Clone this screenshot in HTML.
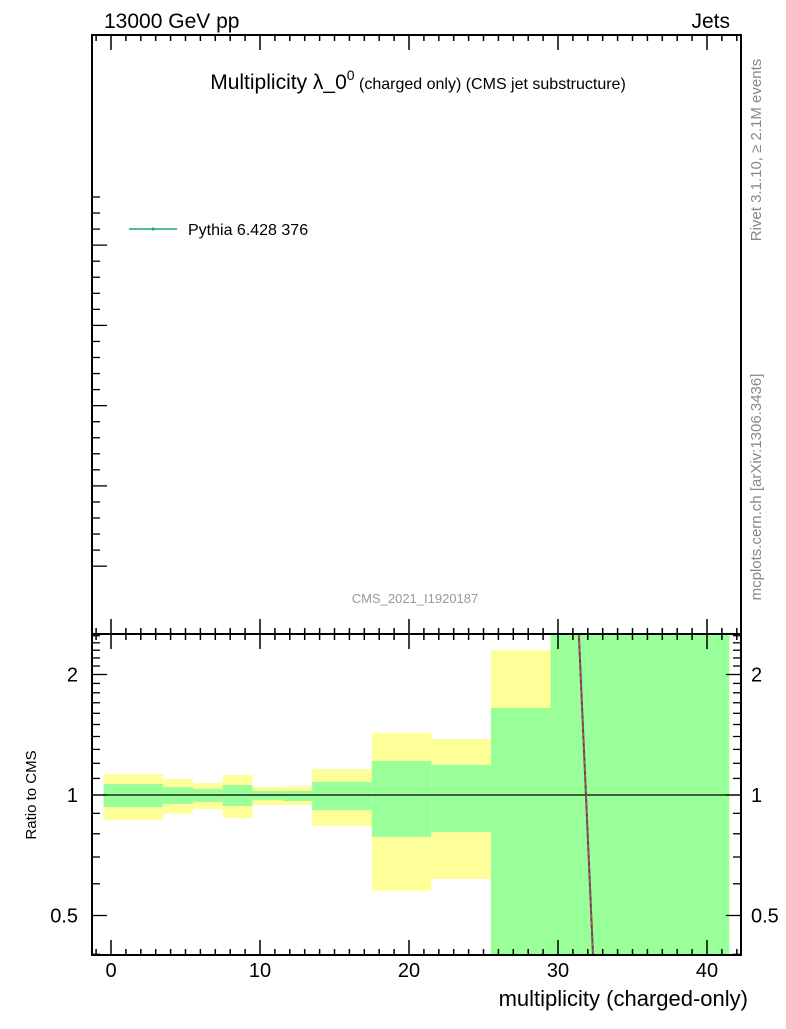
<!DOCTYPE html>
<html><head><meta charset="utf-8"><style>
body{margin:0;background:#fff}
svg text{font-family:"Liberation Sans",sans-serif}
</style></head><body>
<svg id="c" width="786" height="1024" xmlns="http://www.w3.org/2000/svg">
<rect x="0" y="0" width="786" height="1024" fill="#fff"/>
<g id="bands"></g>
<g id="ticks"></g>
<g id="lines"></g>
<rect x="92" y="35" width="649" height="599" fill="none" stroke="#000" stroke-width="2"/>
<rect x="92" y="634" width="649" height="321" fill="none" stroke="#000" stroke-width="2"/>
<text x="104" y="28" font-size="21">13000 GeV pp</text>
<text x="730" y="28" font-size="21" text-anchor="end">Jets</text>
<text x="418" y="89" font-size="21" text-anchor="middle">Multiplicity λ_0<tspan font-size="14" dy="-9">0</tspan><tspan font-size="16" dy="9"> (charged only) (CMS jet substructure)</tspan></text>
<line x1="129" y1="229" x2="177" y2="229" stroke="#1a9e8a" stroke-width="1.5"/>
<circle cx="153" cy="229" r="1.5" fill="#1a9e8a"/>
<text x="188" y="235" font-size="16">Pythia 6.428 376</text>
<text x="415" y="603" font-size="13" fill="#999" text-anchor="middle">CMS_2021_I1920187</text>
<text transform="translate(761,150) rotate(-90)" font-size="15" fill="#888" text-anchor="middle">Rivet 3.1.10, ≥ 2.1M events</text>
<text transform="translate(761,487) rotate(-90)" font-size="15" fill="#888" text-anchor="middle">mcplots.cern.ch [arXiv:1306.3436]</text>
<text transform="translate(36,795) rotate(-90)" font-size="15" text-anchor="middle">Ratio to CMS</text>
<text x="748" y="1006" font-size="22" text-anchor="end">multiplicity (charged-only)</text>
<g id="labels"></g>
</svg>
<script>
const binEdges=[-0.5,3.5,5.5,7.5,9.5,11.5,13.5,17.5,21.5,25.5,29.5,41.5];
const yellowHi=[1.128,1.096,1.071,1.122,1.047,1.053,1.161,1.43,1.38,2.3,3.0];
const yellowLo=[0.866,0.897,0.923,0.876,0.944,0.944,0.837,0.576,0.617,0.3,0.3];
const greenHi=[1.065,1.047,1.035,1.059,1.023,1.023,1.078,1.216,1.188,1.65,3.0];
const greenLo=[0.933,0.95,0.961,0.939,0.972,0.966,0.917,0.786,0.808,0.3,0.3];
const mcX=[31.4,32.35];
const mcY=[2.52,0.398];
const xTickLabels=[0,10,20,30,40];
const yTickLabels=[0.5,1,2];
const NS="http://www.w3.org/2000/svg";
const X0=92,X1=741,RT=634,RB=955;
function xs(v){return 111+v*14.9;}
function ys(r){return 795-Math.log2(r)*120.5;}
function cy(y){return Math.max(RT,Math.min(RB,y));}
function mk(tag,attrs,parent){const e=document.createElementNS(NS,tag);for(const k in attrs)e.setAttribute(k,attrs[k]);document.getElementById(parent).appendChild(e);return e;}
for(let i=0;i<yellowHi.length;i++){
  const x=xs(binEdges[i]),w=xs(binEdges[i+1])-x;
  const y1=cy(ys(yellowHi[i])),y2=cy(ys(yellowLo[i]));
  const r=mk('rect',{x:x,y:y1,width:w,height:y2-y1,fill:'#ffff99'},'bands');
  
  
  const g1=cy(ys(greenHi[i])),g2=cy(ys(greenLo[i]));
  const g=mk('rect',{x:x,y:g1,width:w,height:g2-g1,fill:'#99ff99'},'bands');
  
  
}
const one=mk('line',{x1:X0,x2:X1,y1:ys(1),y2:ys(1),stroke:'#000','stroke-width':1.3},'lines');


const l1=mk('line',{x1:xs(mcX[0]),y1:ys(mcY[0]),x2:xs(mcX[1]),y2:ys(mcY[1]),stroke:'#c0143c','stroke-width':2},'lines');


const l2=mk('line',{x1:xs(mcX[0]),y1:ys(mcY[0]),x2:xs(mcX[1]),y2:ys(mcY[1]),stroke:'#1a9e8a','stroke-width':1.2,'stroke-dasharray':'4,3'},'lines');


// x ticks
for(let v=-1;v<=42;v++){
  const x=xs(v);if(x<X0||x>X1)continue;
  const maj=v%10===0,L=maj?15:6;
  [[35,35+L],[634,634-L],[634,634+L],[955,955-L]].forEach(p=>{
    const t=mk('line',{x1:x,x2:x,y1:p[0],y2:p[1],stroke:'#000','stroke-width':1.5},'ticks');
    
    
  });
}
xTickLabels.forEach(v=>{
  const t=mk('text',{x:xs(v),y:977,'font-size':20,'text-anchor':'middle'},'labels');
  t.textContent=v;
  
  
});
// main panel left ticks
for(let y=197;y<=570;y+=16.05){
  const idx=Math.round((y-197)/16.05);const maj=(idx-3)%5===0&&idx>=3;
  const t=mk('line',{x1:X0,x2:X0+(maj?15:8),y1:y,y2:y,stroke:'#000','stroke-width':1.3},'ticks');
  
  
}
// ratio y ticks
for(let r=0.4;r<=2.55;r+=0.1){
  const rr=Math.round(r*10)/10;const y=ys(rr);if(y<RT||y>RB)continue;
  const maj=rr===0.5||rr===1||rr===2;const L=maj?15:8;
  [[X0,X0+L],[X1,X1-L]].forEach(p=>{
    const t=mk('line',{x1:p[0],x2:p[1],y1:y,y2:y,stroke:'#000','stroke-width':1.3},'ticks');
    
    
  });
}
yTickLabels.forEach(v=>{
  const t=mk('text',{x:78,y:ys(v)+7,'font-size':20,'text-anchor':'end'},'labels');
  t.textContent=v;
  
  
  const t2=mk('text',{x:751,y:ys(v)+7,'font-size':20},'labels');
  t2.textContent=v;
  
  
});
</script>
</body></html>
